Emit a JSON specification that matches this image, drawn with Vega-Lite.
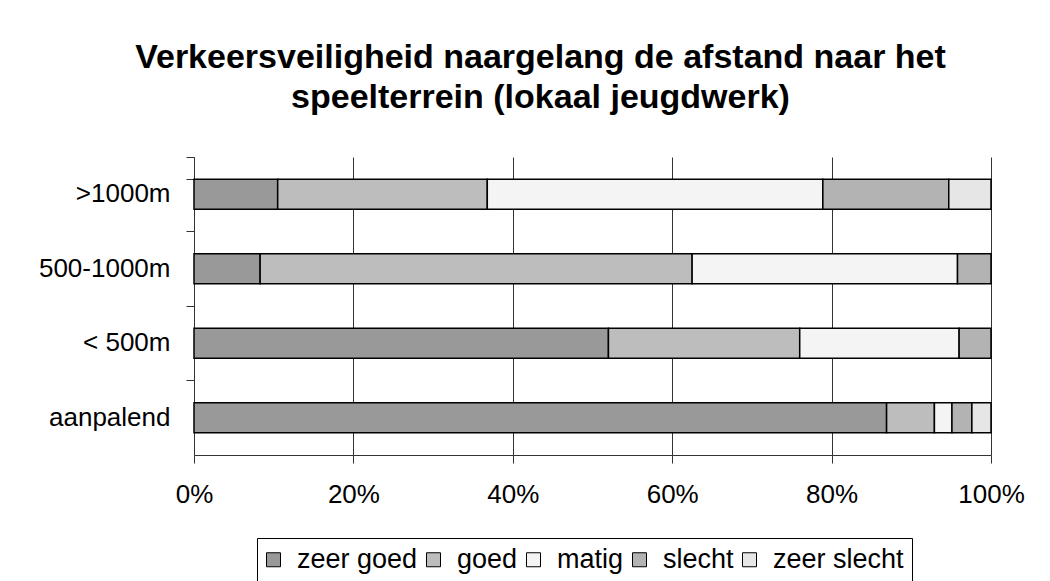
{
  "$schema": "https://vega.github.io/schema/vega-lite/v6.json",
  "width": 797,
  "height": 298,
  "autosize": {"type": "none"},
  "padding": {"left": 194, "top": 157, "right": 59, "bottom": 126},
  "background": "white",
  "title": {
    "text": ["Verkeersveiligheid naargelang de afstand naar het", "speelterrein (lokaal jeugdwerk)"],
    "fontSize": 34,
    "fontWeight": "bold",
    "font": "Liberation Sans",
    "color": "#000000",
    "anchor": "middle",
    "frame": "group",
    "dx": -52,
    "offset": 29,
    "lineHeight": 40
  },
  "data": {
    "values": [
      {"afstand": ">1000m", "oordeel": "zeer goed", "k": 1, "pct": 10.5},
      {"afstand": ">1000m", "oordeel": "goed", "k": 2, "pct": 26.3},
      {"afstand": ">1000m", "oordeel": "matig", "k": 3, "pct": 42.1},
      {"afstand": ">1000m", "oordeel": "slecht", "k": 4, "pct": 15.8},
      {"afstand": ">1000m", "oordeel": "zeer slecht", "k": 5, "pct": 5.3},
      {"afstand": "500-1000m", "oordeel": "zeer goed", "k": 1, "pct": 8.3},
      {"afstand": "500-1000m", "oordeel": "goed", "k": 2, "pct": 54.2},
      {"afstand": "500-1000m", "oordeel": "matig", "k": 3, "pct": 33.3},
      {"afstand": "500-1000m", "oordeel": "slecht", "k": 4, "pct": 4.2},
      {"afstand": "< 500m", "oordeel": "zeer goed", "k": 1, "pct": 52},
      {"afstand": "< 500m", "oordeel": "goed", "k": 2, "pct": 24},
      {"afstand": "< 500m", "oordeel": "matig", "k": 3, "pct": 20},
      {"afstand": "< 500m", "oordeel": "slecht", "k": 4, "pct": 4},
      {"afstand": "aanpalend", "oordeel": "zeer goed", "k": 1, "pct": 86.9},
      {"afstand": "aanpalend", "oordeel": "goed", "k": 2, "pct": 6.0},
      {"afstand": "aanpalend", "oordeel": "matig", "k": 3, "pct": 2.2},
      {"afstand": "aanpalend", "oordeel": "slecht", "k": 4, "pct": 2.5},
      {"afstand": "aanpalend", "oordeel": "zeer slecht", "k": 5, "pct": 2.4}
    ]
  },
  "mark": {"type": "bar", "stroke": "#000000", "strokeWidth": 1.5},
  "encoding": {
    "y": {
      "field": "afstand",
      "type": "nominal",
      "sort": [">1000m", "500-1000m", "< 500m", "aanpalend"],
      "title": null,
      "scale": {"paddingInner": 0.6, "paddingOuter": 0.3},
      "axis": {
        "bandPosition": -0.75,
        "tickExtra": true,
        "tickSize": 8,
        "labelPadding": 16,
        "labelFontSize": 26,
        "labelFont": "Liberation Sans",
        "labelColor": "#000000",
        "domainColor": "#333333",
        "tickColor": "#333333",
        "grid": false
      }
    },
    "x": {
      "field": "pct",
      "type": "quantitative",
      "stack": "normalize",
      "title": null,
      "scale": {"domain": [0, 1], "nice": false},
      "axis": {
        "values": [0, 0.2, 0.4, 0.6, 0.8, 1],
        "format": ".0%",
        "grid": true,
        "gridColor": "#333333",
        "gridWidth": 1,
        "gridOpacity": 1,
        "tickSize": 8,
        "labelPadding": 18,
        "labelFontSize": 26,
        "labelFont": "Liberation Sans",
        "labelColor": "#000000",
        "labelFlush": false,
        "domainColor": "#333333",
        "tickColor": "#333333"
      }
    },
    "color": {
      "field": "oordeel",
      "type": "nominal",
      "scale": {
        "domain": ["zeer goed", "goed", "matig", "slecht", "zeer slecht"],
        "range": ["#999999", "#bdbdbd", "#f4f4f4", "#b3b3b3", "#e6e6e6"]
      },
      "legend": {
        "orient": "none",
        "legendX": 63,
        "legendY": 381,
        "direction": "horizontal",
        "columns": 5,
        "title": null,
        "labelFontSize": 27,
        "labelFont": "Liberation Sans",
        "labelColor": "#000000",
        "labelOffset": 10,
        "symbolOffset": -5,
        "symbolType": "square",
        "symbolSize": 196,
        "symbolStrokeColor": "#000000",
        "symbolStrokeWidth": 1,
        "symbolOpacity": 1,
        "strokeColor": "#000000",
        "padding": 8,
        "columnPadding": 6
      }
    },
    "order": {"field": "k", "type": "quantitative"}
  },
  "config": {
    "view": {"stroke": null},
    "font": "Liberation Sans"
  }
}
